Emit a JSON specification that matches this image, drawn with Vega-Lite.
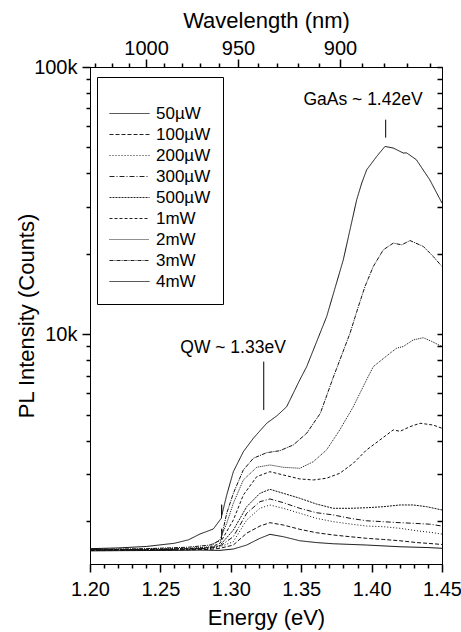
{
  "$schema": "https://vega.github.io/schema/vega-lite/v6.json",
  "autosize": {"type": "none"},
  "padding": {"left": 90, "top": 67, "right": 19, "bottom": 68},
  "width": 352,
  "height": 497,
  "background": "white",
  "config": {
    "view": {"stroke": "black"},
    "font": "Liberation Sans",
    "axis": {"labelColor": "black", "titleColor": "black", "labelFont": "Liberation Sans", "titleFont": "Liberation Sans", "titleFontWeight": "normal", "labelFontSize": 20, "titleFontSize": 22}
  },
  "datasets": {
    "spectra": [
      {"E": 1.200, "I": 1545, "s": "50µW"}, {"E": 1.220, "I": 1548, "s": "50µW"}, {"E": 1.240, "I": 1550, "s": "50µW"}, {"E": 1.260, "I": 1552, "s": "50µW"}, {"E": 1.278, "I": 1556, "s": "50µW"}, {"E": 1.2923, "I": 1552, "s": "50µW"}, {"E": 1.3018, "I": 1570, "s": "50µW"}, {"E": 1.3113, "I": 1625, "s": "50µW"}, {"E": 1.3207, "I": 1722, "s": "50µW"}, {"E": 1.3278, "I": 1782, "s": "50µW"}, {"E": 1.3373, "I": 1746, "s": "50µW"}, {"E": 1.349, "I": 1686, "s": "50µW"}, {"E": 1.3608, "I": 1660, "s": "50µW"}, {"E": 1.3728, "I": 1643, "s": "50µW"}, {"E": 1.3964, "I": 1625, "s": "50µW"}, {"E": 1.4202, "I": 1601, "s": "50µW"}, {"E": 1.440, "I": 1590, "s": "50µW"}, {"E": 1.450, "I": 1580, "s": "50µW"},

      {"E": 1.200, "I": 1550, "s": "100µW"}, {"E": 1.240, "I": 1555, "s": "100µW"}, {"E": 1.270, "I": 1560, "s": "100µW"}, {"E": 1.285, "I": 1565, "s": "100µW"}, {"E": 1.2923, "I": 1580, "s": "100µW"}, {"E": 1.3018, "I": 1625, "s": "100µW"}, {"E": 1.3113, "I": 1800, "s": "100µW"}, {"E": 1.3207, "I": 1914, "s": "100µW"}, {"E": 1.3278, "I": 1970, "s": "100µW"}, {"E": 1.3373, "I": 1931, "s": "100µW"}, {"E": 1.349, "I": 1861, "s": "100µW"}, {"E": 1.3608, "I": 1807, "s": "100µW"}, {"E": 1.3728, "I": 1772, "s": "100µW"}, {"E": 1.3847, "I": 1746, "s": "100µW"}, {"E": 1.3964, "I": 1722, "s": "100µW"}, {"E": 1.4083, "I": 1705, "s": "100µW"}, {"E": 1.4202, "I": 1686, "s": "100µW"}, {"E": 1.432, "I": 1660, "s": "100µW"}, {"E": 1.4438, "I": 1643, "s": "100µW"}, {"E": 1.450, "I": 1633, "s": "100µW"},

      {"E": 1.200, "I": 1555, "s": "200µW"}, {"E": 1.240, "I": 1558, "s": "200µW"}, {"E": 1.270, "I": 1565, "s": "200µW"}, {"E": 1.285, "I": 1575, "s": "200µW"}, {"E": 1.2923, "I": 1600, "s": "200µW"}, {"E": 1.3018, "I": 1673, "s": "200µW"}, {"E": 1.3113, "I": 2016, "s": "200µW"}, {"E": 1.3207, "I": 2230, "s": "200µW"}, {"E": 1.3278, "I": 2295, "s": "200µW"}, {"E": 1.3373, "I": 2230, "s": "200µW"}, {"E": 1.349, "I": 2137, "s": "200µW"}, {"E": 1.3608, "I": 2046, "s": "200µW"}, {"E": 1.3728, "I": 1987, "s": "200µW"}, {"E": 1.3847, "I": 1948, "s": "200µW"}, {"E": 1.3964, "I": 1914, "s": "200µW"}, {"E": 1.4083, "I": 1903, "s": "200µW"}, {"E": 1.4202, "I": 1877, "s": "200µW"}, {"E": 1.432, "I": 1838, "s": "200µW"}, {"E": 1.4438, "I": 1807, "s": "200µW"}, {"E": 1.450, "I": 1786, "s": "200µW"},

      {"E": 1.200, "I": 1555, "s": "300µW"}, {"E": 1.240, "I": 1560, "s": "300µW"}, {"E": 1.270, "I": 1568, "s": "300µW"}, {"E": 1.285, "I": 1580, "s": "300µW"}, {"E": 1.2923, "I": 1610, "s": "300µW"}, {"E": 1.3018, "I": 1746, "s": "300µW"}, {"E": 1.3113, "I": 2137, "s": "300µW"}, {"E": 1.3207, "I": 2361, "s": "300µW"}, {"E": 1.3278, "I": 2417, "s": "300µW"}, {"E": 1.3373, "I": 2341, "s": "300µW"}, {"E": 1.349, "I": 2230, "s": "300µW"}, {"E": 1.3608, "I": 2147, "s": "300µW"}, {"E": 1.3728, "I": 2106, "s": "300µW"}, {"E": 1.3847, "I": 2046, "s": "300µW"}, {"E": 1.3964, "I": 2003, "s": "300µW"}, {"E": 1.4083, "I": 1987, "s": "300µW"}, {"E": 1.4202, "I": 1970, "s": "300µW"}, {"E": 1.4296, "I": 1960, "s": "300µW"}, {"E": 1.4413, "I": 1945, "s": "300µW"}, {"E": 1.450, "I": 1914, "s": "300µW"},

      {"E": 1.200, "I": 1558, "s": "500µW"}, {"E": 1.240, "I": 1562, "s": "500µW"}, {"E": 1.270, "I": 1570, "s": "500µW"}, {"E": 1.285, "I": 1585, "s": "500µW"}, {"E": 1.2923, "I": 1620, "s": "500µW"}, {"E": 1.3018, "I": 1849, "s": "500µW"}, {"E": 1.3113, "I": 2261, "s": "500µW"}, {"E": 1.3207, "I": 2538, "s": "500µW"}, {"E": 1.3278, "I": 2627, "s": "500µW"}, {"E": 1.3373, "I": 2538, "s": "500µW"}, {"E": 1.349, "I": 2432, "s": "500µW"}, {"E": 1.3608, "I": 2314, "s": "500µW"}, {"E": 1.3728, "I": 2230, "s": "500µW"}, {"E": 1.3847, "I": 2230, "s": "500µW"}, {"E": 1.3964, "I": 2241, "s": "500µW"}, {"E": 1.4083, "I": 2261, "s": "500µW"}, {"E": 1.4202, "I": 2295, "s": "500µW"}, {"E": 1.4296, "I": 2295, "s": "500µW"}, {"E": 1.4391, "I": 2261, "s": "500µW"}, {"E": 1.450, "I": 2198, "s": "500µW"},

      {"E": 1.200, "I": 1560, "s": "1mW"}, {"E": 1.240, "I": 1565, "s": "1mW"}, {"E": 1.270, "I": 1575, "s": "1mW"}, {"E": 1.285, "I": 1590, "s": "1mW"}, {"E": 1.2923, "I": 1650, "s": "1mW"}, {"E": 1.3018, "I": 2016, "s": "1mW"}, {"E": 1.3089, "I": 2500, "s": "1mW"}, {"E": 1.3184, "I": 2929, "s": "1mW"}, {"E": 1.3278, "I": 3057, "s": "1mW"}, {"E": 1.3373, "I": 2972, "s": "1mW"}, {"E": 1.349, "I": 2872, "s": "1mW"}, {"E": 1.3586, "I": 2847, "s": "1mW"}, {"E": 1.368, "I": 2890, "s": "1mW"}, {"E": 1.3774, "I": 3016, "s": "1mW"}, {"E": 1.387, "I": 3288, "s": "1mW"}, {"E": 1.3964, "I": 3687, "s": "1mW"}, {"E": 1.4059, "I": 4018, "s": "1mW"}, {"E": 1.4154, "I": 4383, "s": "1mW"}, {"E": 1.4202, "I": 4330, "s": "1mW"}, {"E": 1.4273, "I": 4508, "s": "1mW"}, {"E": 1.4344, "I": 4642, "s": "1mW"}, {"E": 1.4438, "I": 4570, "s": "1mW"}, {"E": 1.450, "I": 4445, "s": "1mW"},

      {"E": 1.200, "I": 1562, "s": "2mW"}, {"E": 1.240, "I": 1568, "s": "2mW"}, {"E": 1.270, "I": 1580, "s": "2mW"}, {"E": 1.285, "I": 1600, "s": "2mW"}, {"E": 1.2923, "I": 1700, "s": "2mW"}, {"E": 1.2971, "I": 1960, "s": "2mW"}, {"E": 1.3018, "I": 2328, "s": "2mW"}, {"E": 1.3089, "I": 2847, "s": "2mW"}, {"E": 1.3184, "I": 3176, "s": "2mW"}, {"E": 1.3278, "I": 3240, "s": "2mW"}, {"E": 1.3373, "I": 3176, "s": "2mW"}, {"E": 1.349, "I": 3148, "s": "2mW"}, {"E": 1.3586, "I": 3333, "s": "2mW"}, {"E": 1.368, "I": 3687, "s": "2mW"}, {"E": 1.3774, "I": 4383, "s": "2mW"}, {"E": 1.387, "I": 5354, "s": "2mW"}, {"E": 1.3964, "I": 6745, "s": "2mW"}, {"E": 1.4012, "I": 7560, "s": "2mW"}, {"E": 1.4131, "I": 8490, "s": "2mW"}, {"E": 1.4178, "I": 8865, "s": "2mW"}, {"E": 1.4225, "I": 8990, "s": "2mW"}, {"E": 1.4296, "I": 9520, "s": "2mW"}, {"E": 1.4367, "I": 9700, "s": "2mW"}, {"E": 1.4426, "I": 9400, "s": "2mW"}, {"E": 1.450, "I": 8990, "s": "2mW"},

      {"E": 1.200, "I": 1565, "s": "3mW"}, {"E": 1.240, "I": 1575, "s": "3mW"}, {"E": 1.270, "I": 1595, "s": "3mW"}, {"E": 1.2852, "I": 1625, "s": "3mW"}, {"E": 1.2934, "I": 1700, "s": "3mW"}, {"E": 1.2935, "I": 1870, "s": "3mW"}, {"E": 1.2936, "I": 1760, "s": "3mW"}, {"E": 1.2971, "I": 2137, "s": "3mW"}, {"E": 1.3018, "I": 2538, "s": "3mW"}, {"E": 1.3089, "I": 3104, "s": "3mW"}, {"E": 1.316, "I": 3432, "s": "3mW"}, {"E": 1.3255, "I": 3602, "s": "3mW"}, {"E": 1.3349, "I": 3664, "s": "3mW"}, {"E": 1.3444, "I": 3850, "s": "3mW"}, {"E": 1.3539, "I": 4258, "s": "3mW"}, {"E": 1.3636, "I": 5060, "s": "3mW"}, {"E": 1.3728, "I": 6900, "s": "3mW"}, {"E": 1.3847, "I": 10090, "s": "3mW"}, {"E": 1.3906, "I": 12690, "s": "3mW"}, {"E": 1.3953, "I": 15080, "s": "3mW"}, {"E": 1.4012, "I": 17920, "s": "3mW"}, {"E": 1.4083, "I": 20690, "s": "3mW"}, {"E": 1.4154, "I": 21920, "s": "3mW"}, {"E": 1.4214, "I": 21600, "s": "3mW"}, {"E": 1.4273, "I": 22410, "s": "3mW"}, {"E": 1.4367, "I": 21300, "s": "3mW"}, {"E": 1.4438, "I": 19530, "s": "3mW"}, {"E": 1.450, "I": 17920, "s": "3mW"},

      {"E": 1.200, "I": 1575, "s": "4mW"}, {"E": 1.220, "I": 1585, "s": "4mW"}, {"E": 1.240, "I": 1605, "s": "4mW"}, {"E": 1.260, "I": 1650, "s": "4mW"}, {"E": 1.270, "I": 1700, "s": "4mW"}, {"E": 1.278, "I": 1786, "s": "4mW"}, {"E": 1.2876, "I": 1866, "s": "4mW"}, {"E": 1.2923, "I": 2016, "s": "4mW"}, {"E": 1.2934, "I": 2050, "s": "4mW"}, {"E": 1.2935, "I": 2300, "s": "4mW"}, {"E": 1.2936, "I": 2100, "s": "4mW"}, {"E": 1.2971, "I": 2500, "s": "4mW"}, {"E": 1.3018, "I": 3057, "s": "4mW"}, {"E": 1.3089, "I": 3632, "s": "4mW"}, {"E": 1.316, "I": 4078, "s": "4mW"}, {"E": 1.3255, "I": 4642, "s": "4mW"}, {"E": 1.3326, "I": 4943, "s": "4mW"}, {"E": 1.3397, "I": 5354, "s": "4mW"}, {"E": 1.349, "I": 6745, "s": "4mW"}, {"E": 1.3539, "I": 7560, "s": "4mW"}, {"E": 1.3681, "I": 11640, "s": "4mW"}, {"E": 1.3799, "I": 18980, "s": "4mW"}, {"E": 1.3894, "I": 31840, "s": "4mW"}, {"E": 1.393, "I": 36780, "s": "4mW"}, {"E": 1.3965, "I": 41230, "s": "4mW"}, {"E": 1.4036, "I": 46250, "s": "4mW"}, {"E": 1.4095, "I": 50430, "s": "4mW"}, {"E": 1.4154, "I": 49740, "s": "4mW"}, {"E": 1.4225, "I": 47640, "s": "4mW"}, {"E": 1.4249, "I": 47700, "s": "4mW"}, {"E": 1.4318, "I": 44960, "s": "4mW"}, {"E": 1.4413, "I": 37840, "s": "4mW"}, {"E": 1.450, "I": 30960, "s": "4mW"}
    ],
    "labels": [
      {"E": 1.3939, "I": 75420, "t": "GaAs ~ 1.42eV"},
      {"E": 1.3016, "I": 8865, "t": "QW ~ 1.33eV"}
    ],
    "pointers": [
      {"E": 1.41, "I": 63500, "I2": 54400},
      {"E": 1.3234, "I": 7895, "I2": 5205}
    ],
    "anchor": [
      {"E": 1.3, "wl": 1000, "I": 10000}
    ]
  },
  "layer": [
    {
      "encoding": {
        "x": {"field": "E", "type": "quantitative",
          "scale": {"domain": [1.2, 1.45], "nice": false, "zero": false},
          "axis": {"title": "Energy (eV)", "orient": "bottom", "grid": false, "labelFlush": false,
            "values": [1.2, 1.25, 1.3, 1.35, 1.4, 1.45], "format": ".2f",
            "domainColor": "black", "tickSize": 8, "tickWidth": 1.5, "tickColor": "black", "labelPadding": 7, "titlePadding": 8}},
        "y": {"field": "I", "type": "quantitative",
          "scale": {"type": "log", "domain": [1380, 100000], "nice": false, "zero": false},
          "axis": {"title": "PL Intensity (Counts)", "orient": "left", "grid": false, "labelOverlap": false, "labelFlush": false,
            "values": [10000, 100000],
            "labelExpr": "datum.value == 10000 ? '10k' : '100k'",
            "domainColor": "black", "tickSize": 8, "tickWidth": 1.5, "tickColor": "black", "labelPadding": 5, "titlePadding": -5}}
      },
      "layer": [
        {
          "data": {"name": "spectra"},
          "mark": {"type": "line", "strokeWidth": 1, "color": "#111"},
          "encoding": {
            "order": {"field": "E", "type": "quantitative"},
            "strokeDash": {"field": "s", "type": "nominal",
              "scale": {"domain": ["50µW", "100µW", "200µW", "300µW", "500µW", "1mW", "2mW", "3mW", "4mW"],
                "range": [[1, 0], [4, 2], [1, 2], [5, 2, 1, 2], [2, 1], [3, 2], [1, 1], [4, 1, 1, 1], [1, 0]]},
              "legend": {"title": "\u00a0", "titleFontSize": 10, "titlePadding": 4, "orient": "none", "legendX": 7, "legendY": 10,
                "padding": 12, "strokeColor": "black", "fillColor": "white",
                "symbolType": "stroke", "symbolSize": 1600, "symbolStrokeColor": "#222", "symbolStrokeWidth": 1,
                "clipHeight": 21, "rowPadding": 0, "labelOffset": 6,
                "labelFont": "Liberation Sans", "labelFontSize": 17, "labelColor": "black"}}
          }
        },
        {
          "data": {"name": "pointers"},
          "mark": {"type": "rule", "color": "black", "strokeWidth": 1},
          "encoding": {"y2": {"field": "I2"}}
        },
        {
          "data": {"name": "labels"},
          "mark": {"type": "text", "fontSize": 17.5, "font": "Liberation Sans", "color": "black", "align": "center", "baseline": "middle"},
          "encoding": {"text": {"field": "t"}}
        }
      ]
    },
    {
      "data": {"name": "anchor"},
      "mark": {"type": "point", "opacity": 0},
      "encoding": {
        "x": {"field": "wl", "type": "quantitative",
          "scale": {"type": "pow", "exponent": -1, "domain": [1033.2, 855.06], "nice": false, "zero": false},
          "axis": {"title": "Wavelength (nm)", "orient": "top", "grid": false, "labelFlush": false,
            "values": [1000, 950, 900], "format": "d",
            "domainColor": "black", "tickSize": 8, "tickWidth": 1.5, "tickColor": "black", "labelPadding": 1, "titlePadding": 6}},
        "y": {"field": "I", "type": "quantitative",
          "scale": {"type": "log", "domain": [1380, 100000], "nice": false, "zero": false},
          "axis": {"title": null, "orient": "right", "labels": false, "grid": false,
            "values": [2000, 3000, 4000, 5000, 6000, 7000, 8000, 9000, 10000, 20000, 30000, 40000, 50000, 60000, 70000, 80000, 90000, 100000],
            "domainColor": "black", "tickSize": -5, "tickWidth": 1.5, "tickColor": "black"}}
      }
    },
    {
      "data": {"name": "anchor"},
      "mark": {"type": "point", "opacity": 0},
      "encoding": {
        "x": {"field": "E", "type": "quantitative",
          "scale": {"domain": [1.2, 1.45], "nice": false, "zero": false},
          "axis": {"title": null, "orient": "bottom", "labels": false, "domain": false, "grid": false,
            "values": [1.21, 1.22, 1.23, 1.24, 1.26, 1.27, 1.28, 1.29, 1.31, 1.32, 1.33, 1.34, 1.36, 1.37, 1.38, 1.39, 1.41, 1.42, 1.43, 1.44],
            "tickSize": 4, "tickWidth": 1.5, "tickColor": "black"}},
        "y": {"field": "I", "type": "quantitative",
          "scale": {"type": "log", "domain": [1380, 100000], "nice": false, "zero": false},
          "axis": {"title": null, "orient": "left", "labels": false, "domain": false, "grid": false,
            "values": [2000, 3000, 4000, 5000, 6000, 7000, 8000, 9000, 20000, 30000, 40000, 50000, 60000, 70000, 80000, 90000],
            "tickSize": 4, "tickWidth": 1.5, "tickColor": "black"}}
      }
    },
    {
      "data": {"name": "anchor"},
      "mark": {"type": "point", "opacity": 0},
      "encoding": {
        "x": {"field": "wl", "type": "quantitative",
          "scale": {"type": "pow", "exponent": -1, "domain": [1033.2, 855.06], "nice": false, "zero": false},
          "axis": {"title": null, "orient": "top", "labels": false, "domain": false, "grid": false,
            "values": [1030, 1020, 1010, 990, 980, 970, 960, 940, 930, 920, 910, 890, 880, 870, 860],
            "tickSize": 4, "tickWidth": 1.5, "tickColor": "black"}}
      }
    }
  ],
  "resolve": {"scale": {"x": "independent", "y": "independent"}, "axis": {"x": "independent", "y": "independent"}}
}
